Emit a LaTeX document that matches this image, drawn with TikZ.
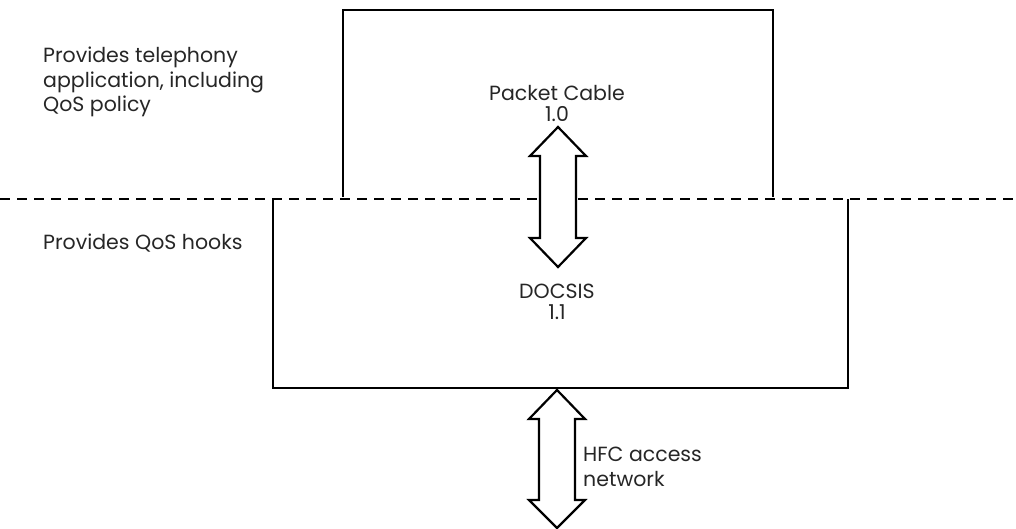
\documentclass[tikz,border=0pt]{standalone}
\usepackage{fontspec}
\setmainfont{Poppins}
\begin{document}
\begin{tikzpicture}[x=1pt,y=-1pt,
  box/.style={line width=2.2pt,line join=miter},
  blockarrow/.style={line width=2.2pt,line join=miter,fill=white},
  lbl/.style={font=\fontsize{20.5}{24.5}\selectfont,text=black!85,inner sep=0pt,align=left},
  clbl/.style={font=\fontsize{20.5}{21}\selectfont,text=black!85,inner sep=0pt,align=center},
  sep/.style={line width=2pt,dash pattern=on 10pt off 7pt}]
\useasboundingbox (0,0) rectangle (1016,529);
% boxes (open toward the dashed divider)
\draw[box] (343,197) -- (343,10) -- (773,10) -- (773,197);
\draw[box] (273,199) -- (273,388) -- (848,388) -- (848,199);
% divider
\coordinate (dl) at (0,199);
\coordinate (dr) at (1016,199);
\draw[sep] (dl) -- (dr);
% double block arrows
\draw[blockarrow] (558,127) -- (586,156) -- (576,156) -- (576,238) -- (586,238) -- (558,267)
  -- (530,238) -- (540,238) -- (540,156) -- (530,156) -- cycle;
\draw[blockarrow] (557,390) -- (585,419) -- (575,419) -- (575,500) -- (585,500) -- (557,528)
  -- (529,500) -- (539,500) -- (539,419) -- (529,419) -- cycle;
% texts
\node[clbl] (pc) at (557,103) {Packet Cable\\1.0};
\node[clbl] (doc) at (557,302) {DOCSIS\\1.1};
\node[lbl,anchor=north west] (t1) at (43,47) {Provides telephony\\application, including\\QoS policy};
\node[lbl,anchor=west] (t2) at (43,243) {Provides QoS hooks};
\node[lbl,anchor=north west] (t3) at (583,447) {HFC access\\network};
\end{tikzpicture}
\end{document}
